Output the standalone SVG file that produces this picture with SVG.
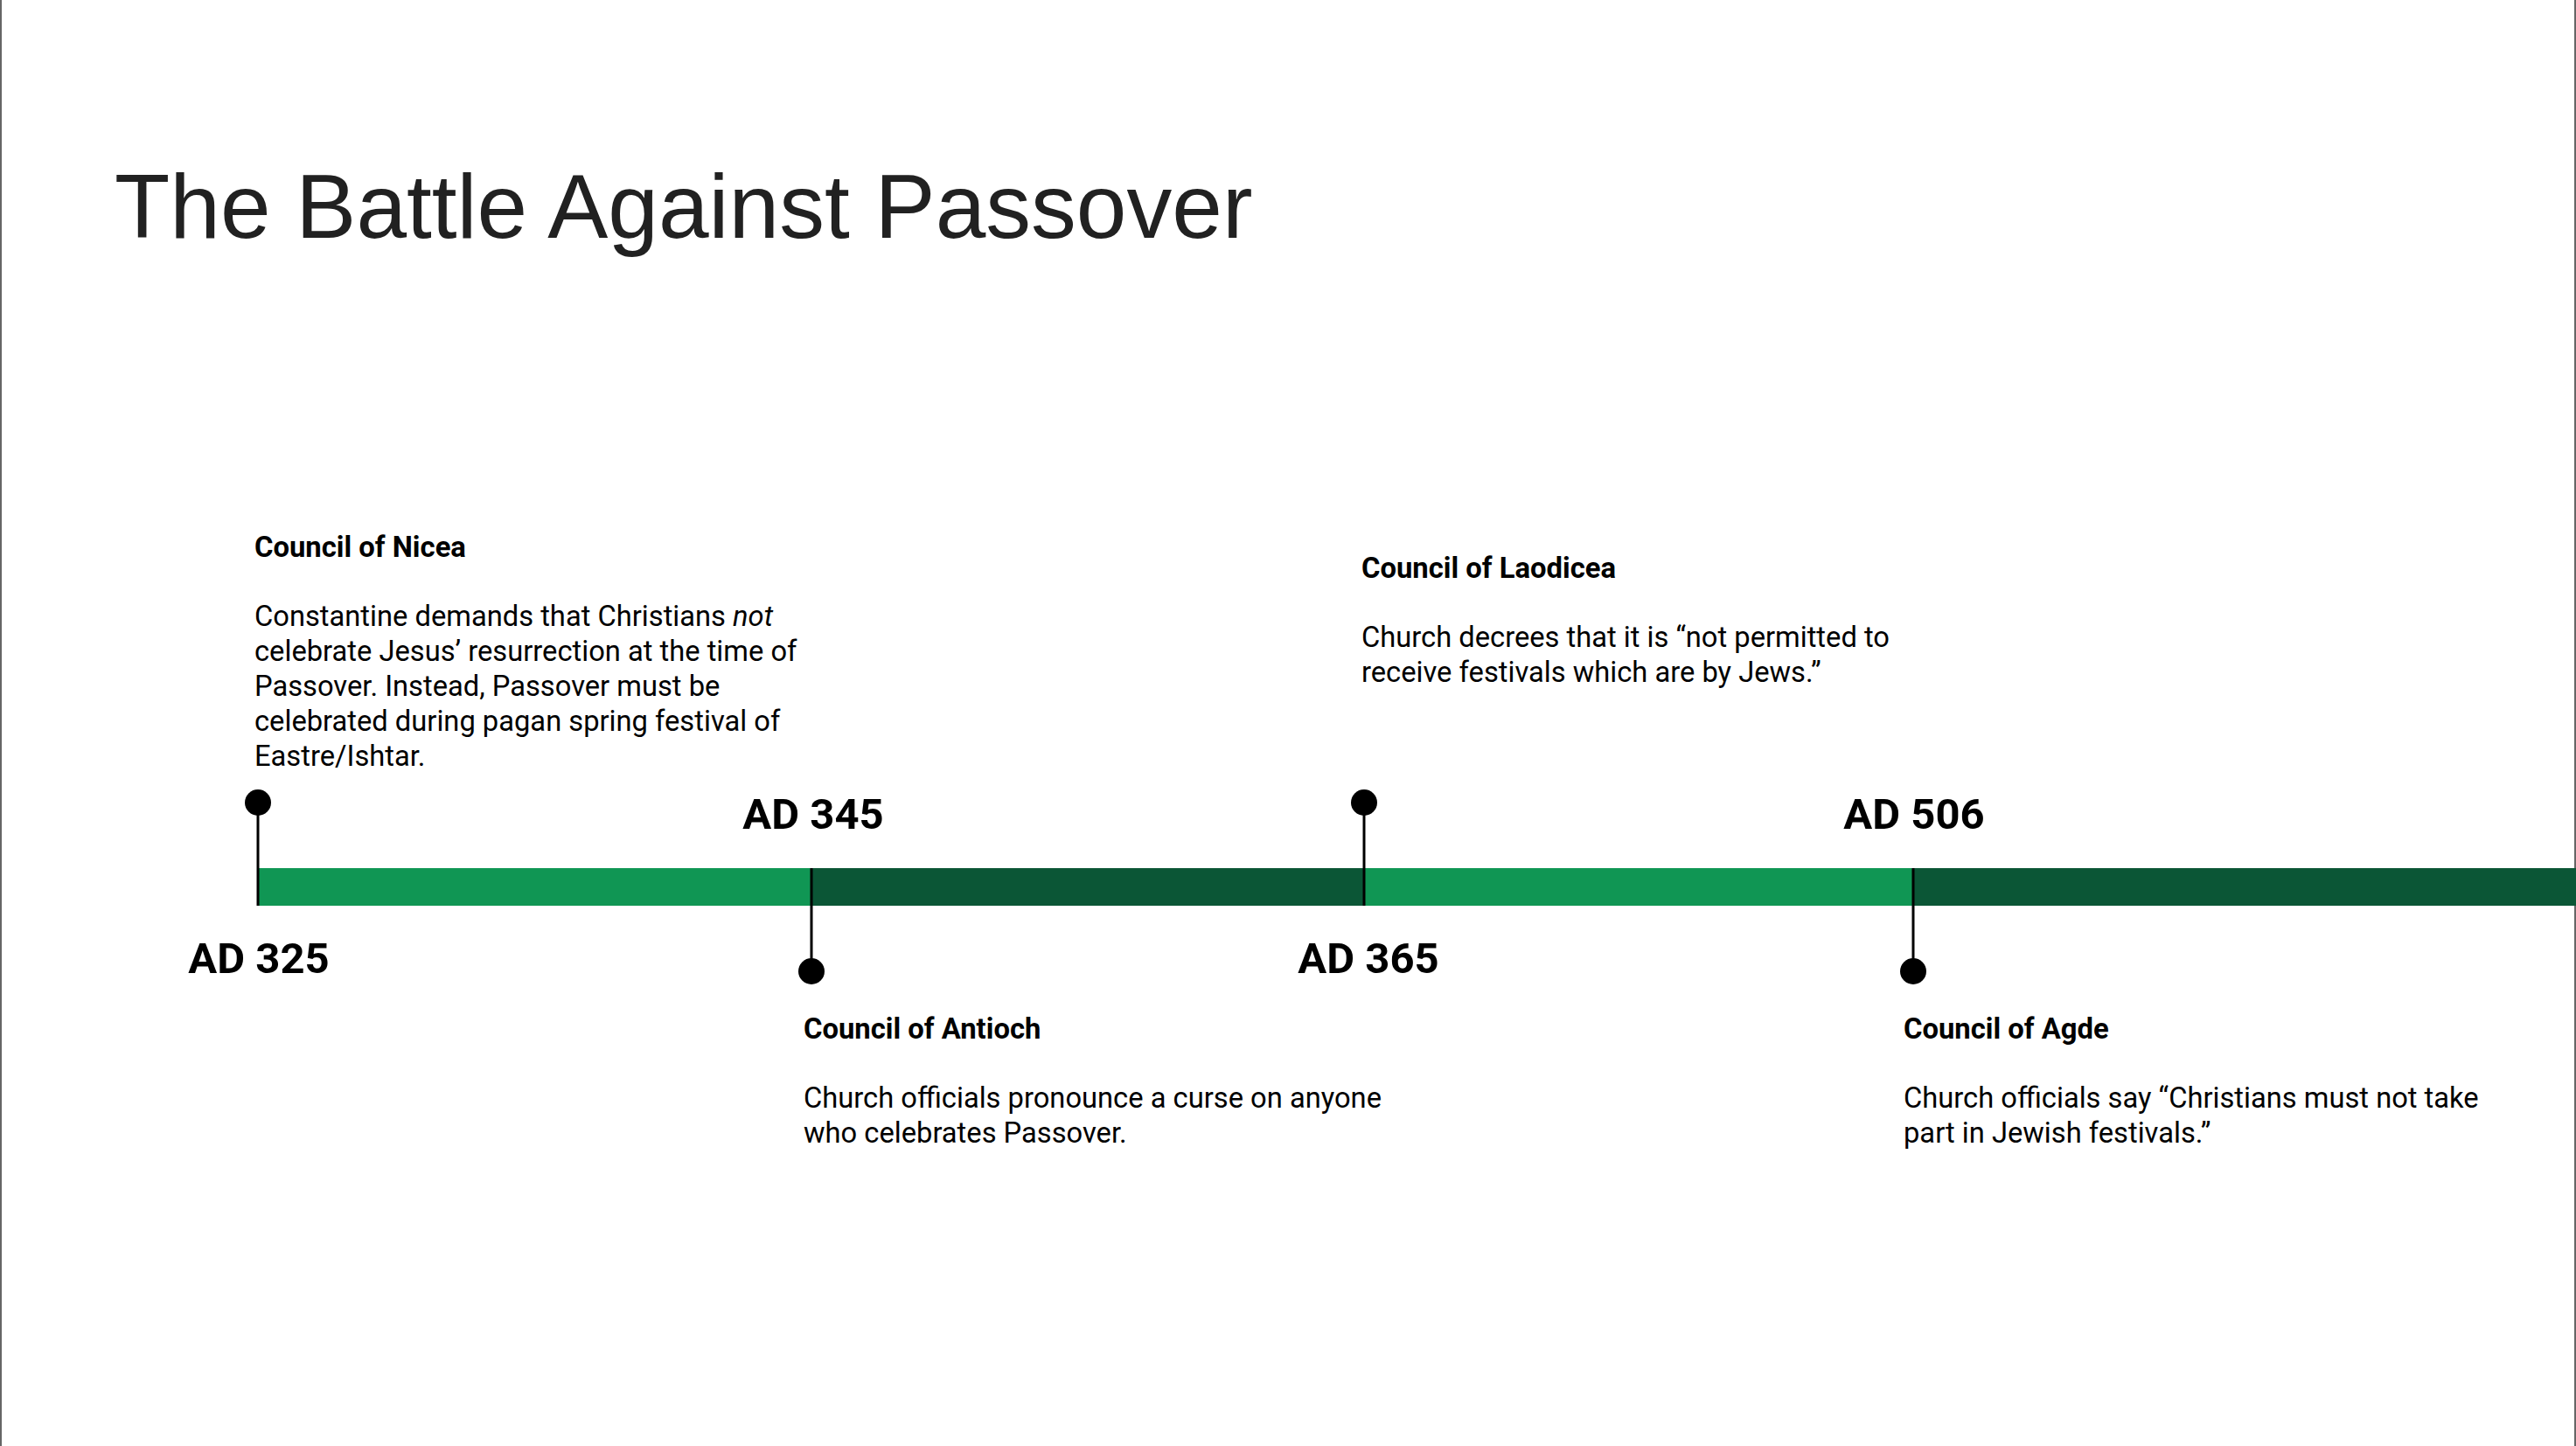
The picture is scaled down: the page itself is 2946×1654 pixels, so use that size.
<svg xmlns="http://www.w3.org/2000/svg" width="2946" height="1654" viewBox="0 0 2946 1654">
<style>
.title{font-family:"Liberation Sans",Arial,sans-serif;font-size:103.6px;fill:#212121}
.year{font-family:Roboto,"Liberation Sans",sans-serif;font-weight:700;font-size:49px;fill:#000;text-anchor:middle}
.head{font-family:Roboto,"Liberation Sans",sans-serif;font-weight:700;font-size:32.8px;fill:#000}
.body{font-family:Roboto,"Liberation Sans",sans-serif;font-size:32.7px;fill:#000}
.stem{stroke:#000;stroke-width:3;fill:none}
.dot{fill:#000}
.light{fill:#109654}
.dark{fill:#0b5636}
.frame{stroke:#666;stroke-width:2}
</style>
<rect x="0" y="0" width="2946" height="1654" fill="#fff"/>
<line class="frame" x1="1" y1="0" x2="1" y2="1654"/>
<line class="frame" x1="2945" y1="0" x2="2945" y2="1654"/>
<text class="title" x="131" y="272">The Battle Against Passover</text>
<g id="timeline">
<rect class="light" x="295" y="993" width="633" height="43"/>
<rect class="dark" x="928" y="993" width="632" height="43"/>
<rect class="light" x="1560" y="993" width="628" height="43"/>
<rect class="dark" x="2188" y="993" width="758" height="43"/>
</g>
<g id="connectors">
<line class="stem" x1="295" y1="918" x2="295" y2="1036"/>
<line class="stem" x1="928" y1="993" x2="928" y2="1111"/>
<line class="stem" x1="1560" y1="918" x2="1560" y2="1036"/>
<line class="stem" x1="2188" y1="993" x2="2188" y2="1111"/>
</g>
<g id="nicea">
<circle class="dot" cx="295" cy="918" r="15"/>
<text class="year" x="296" y="1113">AD 325</text>
<text class="head" x="291" y="637">Council of Nicea</text>
<text class="body" x="291" y="716">Constantine demands that Christians <tspan font-style="italic">not</tspan></text>
<text class="body" x="291" y="756">celebrate Jesus’ resurrection at the time of</text>
<text class="body" x="291" y="796">Passover. Instead, Passover must be</text>
<text class="body" x="291" y="836">celebrated during pagan spring festival of</text>
<text class="body" x="291" y="876">Eastre/Ishtar.</text>
</g>
<g id="antioch">
<circle class="dot" cx="928" cy="1111" r="15"/>
<text class="year" x="930" y="948">AD 345</text>
<text class="head" x="919" y="1188">Council of Antioch</text>
<text class="body" x="919" y="1267">Church officials pronounce a curse on anyone</text>
<text class="body" x="919" y="1307">who celebrates Passover.</text>
</g>
<g id="laodicea">
<circle class="dot" cx="1560" cy="918" r="15"/>
<text class="year" x="1565" y="1113">AD 365</text>
<text class="head" x="1557" y="661">Council of Laodicea</text>
<text class="body" x="1557" y="740">Church decrees that it is “not permitted to</text>
<text class="body" x="1557" y="780">receive festivals which are by Jews.”</text>
</g>
<g id="agde">
<circle class="dot" cx="2188" cy="1111" r="15"/>
<text class="year" x="2189" y="948">AD 506</text>
<text class="head" x="2177" y="1188">Council of Agde</text>
<text class="body" x="2177" y="1267">Church officials say “Christians must not take</text>
<text class="body" x="2177" y="1307">part in Jewish festivals.”</text>
</g>
</svg>
